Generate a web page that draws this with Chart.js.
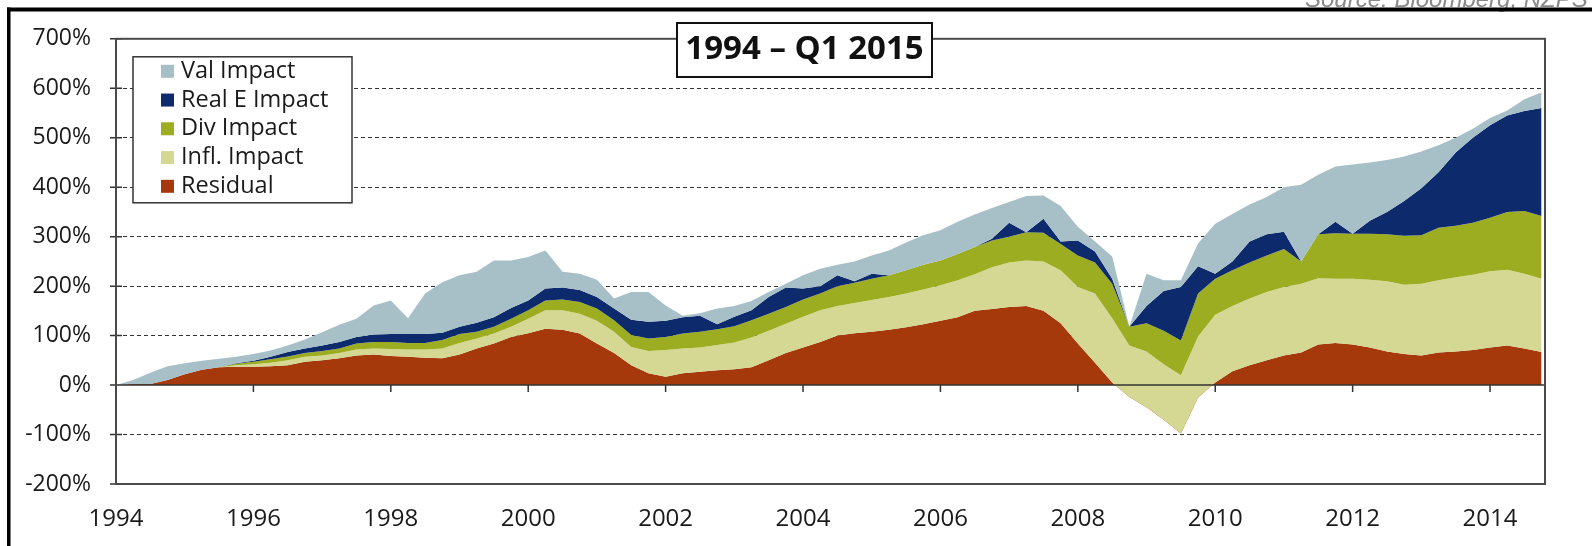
<!DOCTYPE html>
<html>
<head>
<meta charset="utf-8">
<script src="https://cdn.jsdelivr.net/npm/chart.js@4.4.1/dist/chart.umd.min.js"></script>
<style>
  html, body { margin: 0; padding: 0; background: #fff; }
  #wrap { position: relative; width: 1592px; height: 546px; }
</style>
</head>
<body>
<div id="wrap"><canvas id="impactChart"></canvas></div>
<script>
// quarterly sample dates (decimal years)
const quarters = [
  1994, 1994.25, 1994.5, 1994.75, 1995, 1995.25, 1995.5, 1995.75,
  1996, 1996.25, 1996.5, 1996.75, 1997, 1997.25, 1997.5, 1997.75,
  1998, 1998.25, 1998.5, 1998.75, 1999, 1999.25, 1999.5, 1999.75,
  2000, 2000.25, 2000.5, 2000.75, 2001, 2001.25, 2001.5, 2001.75,
  2002, 2002.25, 2002.5, 2002.75, 2003, 2003.25, 2003.5, 2003.75,
  2004, 2004.25, 2004.5, 2004.75, 2005, 2005.25, 2005.5, 2005.75,
  2006, 2006.25, 2006.5, 2006.75, 2007, 2007.25, 2007.5, 2007.75,
  2008, 2008.25, 2008.5, 2008.75, 2009, 2009.25, 2009.5, 2009.75,
  2010, 2010.25, 2010.5, 2010.75, 2011, 2011.25, 2011.5, 2011.75,
  2012, 2012.25, 2012.5, 2012.75, 2013, 2013.25, 2013.5, 2013.75,
  2014, 2014.25, 2014.5, 2014.75
];

// cumulative (stacked) level of each layer, in %
const residualLevel = [
  0, 2, 2, 10, 22, 31, 36, 37,
  37, 38, 40, 47, 50, 54, 60, 62,
  59, 57, 55, 54, 62, 74, 84, 97,
  105, 114, 112, 104, 84, 65, 40, 24,
  17, 24, 27, 30, 32, 36, 50, 65,
  76, 87, 100, 105, 108, 112, 117, 123,
  130, 137, 150, 154, 158, 160, 150, 125,
  84, 45, 5, -24, -45, -70, -98, -25,
  5, 28, 40, 50, 60, 66, 82, 85,
  82, 76, 68, 63, 60, 66, 68, 71,
  76, 80, 74, 67
];
const inflLevel = [
  0, 2, 2, 10, 22, 31, 36, 40,
  42, 45, 50, 57, 60, 65, 72, 74,
  73, 72, 72, 74, 85, 94, 104, 118,
  134, 151, 151, 144, 130, 108, 77, 69,
  71, 74, 76, 81, 86, 96, 110, 124,
  138, 151, 160, 166, 172, 178, 185, 193,
  202, 212, 224, 238, 248, 252, 250, 232,
  198, 185, 135, 80, 68, 42, 20, 98,
  142, 160, 175, 188, 198, 205, 216, 215,
  215, 213, 210, 203, 205, 212, 218, 223,
  230, 233, 225, 215
];
const divLevel = [
  0, 2, 2, 10, 22, 31, 36, 43,
  47, 52, 58, 65, 69, 74, 84, 87,
  87, 85, 85, 91, 103, 108, 118, 134,
  151, 171, 173, 168, 155, 131, 101, 94,
  97, 104, 108, 113, 119, 131, 144, 158,
  173, 185, 200, 207, 215, 222, 232, 243,
  252, 265, 279, 292, 300, 309, 308, 285,
  262, 248, 205, 118, 125, 110, 90, 185,
  215, 232, 248, 262, 275, 250, 305, 307,
  306, 306, 305, 302, 303, 318, 322, 328,
  338, 350, 352, 342
];
const realELevel = [
  0, 2, 2, 10, 22, 31, 36, 44,
  49, 57, 67, 74, 80, 87, 97, 102,
  103, 103, 103, 106, 118, 126, 137, 156,
  171, 195, 197, 192, 178, 155, 132, 128,
  130, 137, 140, 123, 138, 151, 178, 197,
  195, 200, 222, 210, 225, 222, 232, 243,
  252, 265, 279, 296, 328, 309, 336, 290,
  292, 270, 215, 118, 160, 190, 198, 240,
  225, 250, 290, 305, 310, 250, 305, 330,
  306, 332, 350, 372, 398, 430, 470, 500,
  525, 545, 554, 560
];
const valLevel = [
  0, 10, 25, 38, 44, 49, 53, 57,
  63, 70, 80, 92, 107, 122, 134, 161,
  171, 135, 185, 208, 222, 229, 252, 252,
  259, 272, 229, 225, 213, 175, 188, 188,
  161, 140, 145, 155, 160, 170, 188, 205,
  222, 235, 243, 250, 262, 272, 288, 303,
  313, 330, 345, 358, 370, 382, 383, 362,
  320, 290, 260, 118, 225, 212, 212, 286,
  326, 346, 365, 380, 400, 405, 425, 442,
  446, 450, 455, 462, 472, 485, 500, 518,
  540, 555, 578, 592
];

const yearTicks = [1994, 1996, 1998, 2000, 2002, 2004, 2006, 2008, 2010, 2012, 2014];
const pctTicks = [-200, -100, 0, 100, 200, 300, 400, 500, 600, 700];

const seriesNames = ['Residual', 'Infl. Impact', 'Div Impact', 'Real E Impact', 'Val Impact'];
const seriesColors = ['#a5390b', '#d5d892', '#9cad21', '#0d2a6c', '#a7bfc7'];
const seriesLevels = [residualLevel, inflLevel, divLevel, realELevel, valLevel];

const datasets = seriesLevels.map((lv, i) => ({
  label: seriesNames[i],
  data: lv.map((v, j) => ({ x: quarters[j], y: v })),
  backgroundColor: seriesColors[i],
  borderColor: 'transparent',
  borderWidth: 0,
  pointRadius: 0,
  tension: 0,
  fill: i === 0 ? 'origin' : '-1',
  order: seriesLevels.length - i
}));

const decor = {
  id: 'decor',
  afterDatasetsDraw(chart) {
    const { ctx, chartArea: a, scales: { x, y } } = chart;
    const y0 = y.getPixelForValue(0);
    ctx.save();
    ctx.strokeStyle = '#333';
    ctx.lineWidth = 1.5;
    ctx.beginPath();
    ctx.moveTo(a.left, y0);
    ctx.lineTo(a.right, y0);
    yearTicks.forEach(v => {
      const px = x.getPixelForValue(v);
      ctx.moveTo(px, y0);
      ctx.lineTo(px, y0 + 7);
    });
    pctTicks.forEach(v => {
      const py = y.getPixelForValue(v);
      ctx.moveTo(a.left - 6, py);
      ctx.lineTo(a.left + 6, py);
    });
    ctx.stroke();
    ctx.strokeStyle = '#4a4a4a';
    ctx.lineWidth = 2;
    ctx.strokeRect(a.left, a.top, a.right - a.left, a.bottom - a.top);
    ctx.restore();
  },
  afterDraw(chart) {
    const { ctx, chartArea: a } = chart;
    ctx.save();

    // legend box
    const lx = a.left + 17, ly = a.top + 18, lw = 219, lh = 146;
    ctx.fillStyle = '#fff';
    ctx.fillRect(lx, ly, lw, lh);
    ctx.strokeStyle = '#333';
    ctx.lineWidth = 1.5;
    ctx.strokeRect(lx, ly, lw, lh);
    ctx.font = '23.5px "Open Sans"';
    ctx.textBaseline = 'middle';
    ctx.textAlign = 'left';
    const ds = chart.data.datasets;
    for (let r = 0; r < ds.length; r++) {
      const d = ds[ds.length - 1 - r];
      const cy = ly + 14.5 + r * 28.75;
      ctx.fillStyle = d.backgroundColor;
      ctx.fillRect(lx + 28, cy - 6.5, 13, 13);
      ctx.fillStyle = '#1a1a1a';
      ctx.fillText(d.label, lx + 48, cy);
    }

    // title box
    ctx.fillStyle = '#fff';
    ctx.fillRect(677, 23, 255, 54);
    ctx.strokeStyle = '#111';
    ctx.lineWidth = 2;
    ctx.strokeRect(677, 23, 255, 54);
    ctx.fillStyle = '#111';
    ctx.font = 'bold 33px "Open Sans"';
    ctx.textAlign = 'center';
    ctx.fillText('1994 \u2013 Q1 2015', 804.5, 50);

    // source note, cut by the top edge
    ctx.fillStyle = '#8a8a8a';
    ctx.font = 'italic 24px "Liberation Sans"';
    ctx.textAlign = 'left';
    ctx.textBaseline = 'alphabetic';
    ctx.fillText('Source: Bloomberg, NZPS', 1305, 7);

    // outer frame
    ctx.fillStyle = '#000';
    ctx.fillRect(7, 7.5, 1592, 4);
    ctx.fillRect(7, 7.5, 3.5, 546);
    ctx.restore();
  }
};

new Chart(document.getElementById('impactChart'), {
  type: 'line',
  data: { datasets },
  options: {
    responsive: true,
    maintainAspectRatio: false,
    animation: false,
    layout: { padding: { top: 38, right: 47, left: 0, bottom: 0 } },
    plugins: {
      legend: { display: false },
      tooltip: { enabled: false }
    },
    scales: {
      x: {
        type: 'linear',
        min: 1994,
        max: 2014.8,
        afterBuildTicks: s => { s.ticks = yearTicks.map(v => ({ value: v })); },
        afterFit: s => { s.height = 62; },
        grid: { display: false },
        border: { display: false },
        ticks: {
          padding: 13,
          color: '#1a1a1a',
          font: { family: 'Open Sans', size: 24 },
          maxRotation: 0,
          autoSkip: false,
          callback: v => String(v)
        }
      },
      y: {
        min: -200,
        max: 700,
        afterBuildTicks: s => { s.ticks = pctTicks.map(v => ({ value: v })); },
        afterFit: s => { s.width = 116; },
        grid: {
          drawTicks: false,
          lineWidth: 1,
          color: c => (c.tick && (c.tick.value === 0 || c.tick.value === 700 || c.tick.value === -200)) ? 'transparent' : '#333'
        },
        border: { display: false, dash: [4, 3] },
        ticks: {
          padding: 25,
          color: '#1a1a1a',
          font: { family: 'Open Sans', size: 23 },
          callback: v => v + '%'
        }
      }
    }
  },
  plugins: [decor]
});
</script>
</body>
</html>
